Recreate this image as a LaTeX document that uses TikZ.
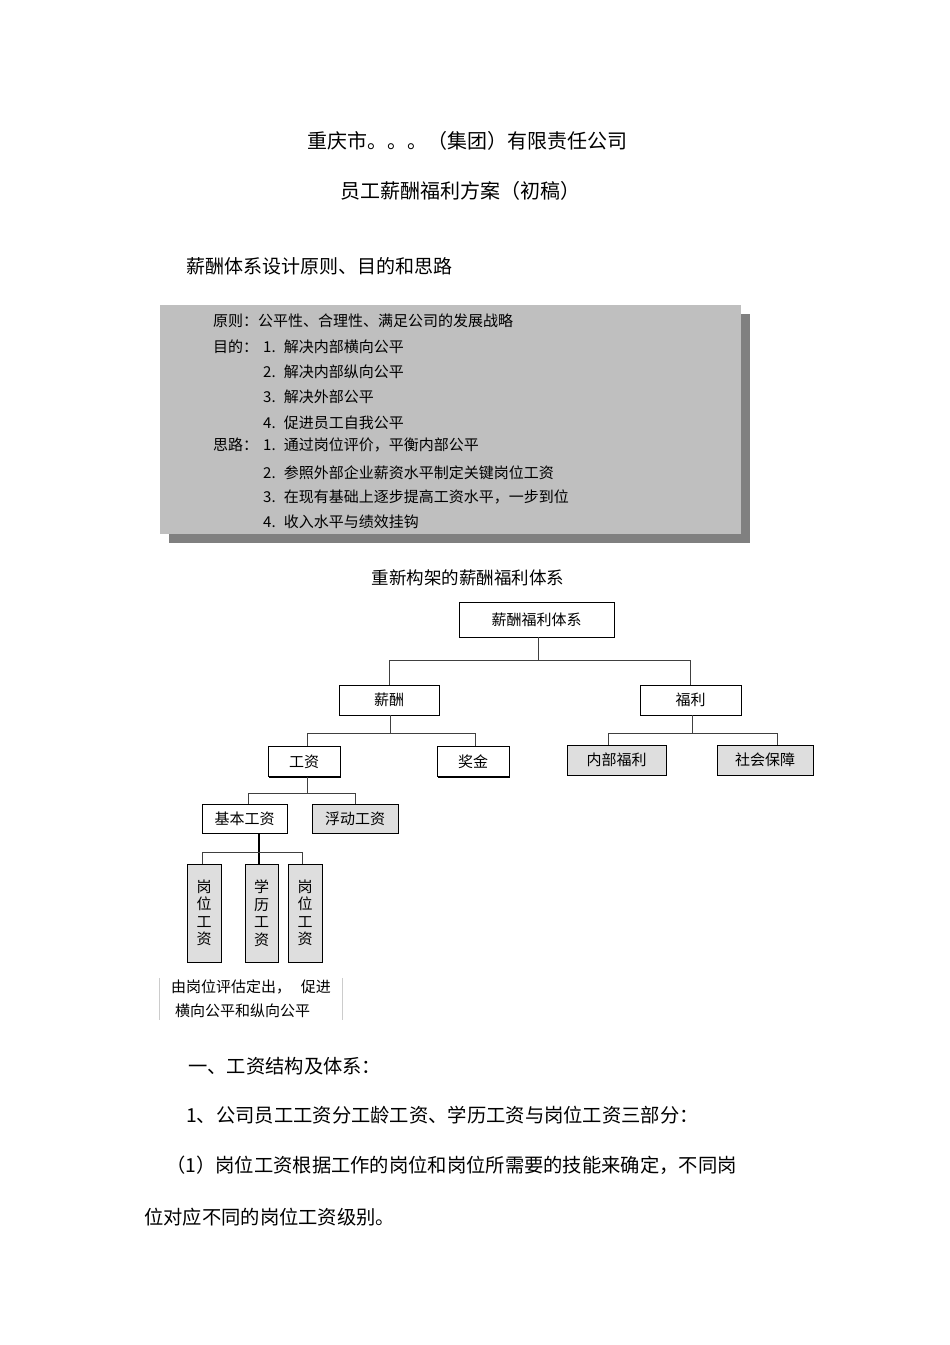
\documentclass[tikz,border=0pt]{standalone}
\usepackage{fontspec}
\setmainfont{Noto Sans CJK SC}
\usetikzlibrary{shadows}
\tikzset{
  ttl/.style={font=\fontsize{20}{24}\selectfont, inner sep=0pt},
  para/.style={font=\fontsize{19.3}{23}\selectfont, anchor=west, inner sep=0pt},
  item/.style={font=\fontsize{15}{18}\selectfont, anchor=west, inner sep=0pt},
  wh/.style 2 args={minimum width=#1, minimum height=#2},
  box/.style={
    draw, line width=0.8pt, fill=white, inner sep=0pt,
    font=\fontsize{15}{18}\selectfont,
    drop shadow={shadow xshift=1.1pt, shadow yshift=-1.1pt, fill=black, opacity=1}
  },
  shade/.style={box, fill=black!13},
  tall/.style={shade, align=center, font=\fontsize{15}{17.5}\selectfont},
  link/.style={draw=black!75, line width=1pt},
  stem/.style={draw=black, line width=1.8pt}
}

\begin{document}
\begin{tikzpicture}[x=1pt, y=-1pt]
  \path[use as bounding box, fill=white] (0,0) rectangle (950,1345);

  % --- heading ----------------------------------------------------------
  \node[ttl] (t1) at (467,141) {重庆市。。。（集团）有限责任公司};
  \node[ttl] (t2) at (460,191) {员工薪酬福利方案（初稿）};
  \node[para, font=\fontsize{19}{23}\selectfont] (sec) at (186,266) {薪酬体系设计原则、目的和思路};

  % --- principles box ---------------------------------------------------
  \node[wh={581}{229}, fill=gray!50, inner sep=0pt,
        drop shadow={shadow xshift=9pt, shadow yshift=-9pt, fill=black!50, opacity=1}]
        (aims) at (450.5,419.5) {};
  \node[item] (rule) at (213,321) {原则：公平性、合理性、满足公司的发展战略};
  \node[item] (goal) at (213,347) {目的：};
  \node[item] (g1) at (263,347) {1.\hspace{0.55em}解决内部横向公平};
  \node[item] (g2) at (263,372) {2.\hspace{0.55em}解决内部纵向公平};
  \node[item] (g3) at (263,397) {3.\hspace{0.55em}解决外部公平};
  \node[item] (g4) at (263,423) {4.\hspace{0.55em}促进员工自我公平};
  \node[item] (idea) at (213,445) {思路：};
  \node[item] (i1) at (263,445) {1.\hspace{0.55em}通过岗位评价，平衡内部公平};
  \node[item] (i2) at (263,473) {2.\hspace{0.55em}参照外部企业薪资水平制定关键岗位工资};
  \node[item] (i3) at (263,497) {3.\hspace{0.55em}在现有基础上逐步提高工资水平，一步到位};
  \node[item] (i4) at (263,522) {4.\hspace{0.55em}收入水平与绩效挂钩};

  % --- tree -------------------------------------------------------------
  \node[inner sep=0pt, font=\fontsize{17.5}{20}\selectfont] (cap) at (468,578) {重新构架的薪酬福利体系};

  \node[box, wh={155}{35}] (root) at (536.5,619.5) {薪酬福利体系};
  \node[box, wh={100}{30}] (pay) at (389,700) {薪酬};
  \node[box, wh={101}{30}] (ben) at (690.5,700) {福利};
  \node[box, wh={72}{30}] (wage) at (304,761.5) {工资};
  \node[box, wh={72}{30}] (bonus) at (473,761.5) {奖金};
  \node[shade, wh={99}{30}] (inner) at (616.5,760) {内部福利};
  \node[shade, wh={96}{30}] (social) at (765,760) {社会保障};
  \node[box, wh={85}{29}] (basic) at (244.5,818.5) {基本工资};
  \node[shade, wh={86}{29}] (float) at (355,818.5) {浮动工资};
  \node[tall, wh={34}{98}] (post1) at (204,913) {岗\\位\\工\\资};
  \node[tall, wh={33}{98}] (edu) at (261.5,913) {学\\历\\工\\资};
  \node[tall, wh={34}{98}] (post2) at (305,913) {岗\\位\\工\\资};

  \coordinate (j1) at (538,660);
  \coordinate (j2) at (390,733);
  \coordinate (j3) at (692,733);
  \coordinate (j4) at (307,793);
  \coordinate (j5) at (259,852);

  \draw[link] (root.south -| j1) -- (j1);
  \draw[link] (j1) -| (pay.north);
  \draw[link] (j1) -| (ben.north);
  \draw[link] (pay.south -| j2) -- (j2);
  \draw[link] (j2) -| ([xshift=3pt]wage.north);
  \draw[link] (j2) -| ([xshift=2pt]bonus.north);
  \draw[link] (ben.south -| j3) -- (j3);
  \draw[link] (j3) -| ([xshift=-8.5pt]inner.north);
  \draw[link] (j3) -| ([xshift=12pt]social.north);
  \draw[link] (wage.south -| j4) -- (j4);
  \draw[link] (j4) -| ([xshift=3.5pt]basic.north);
  \draw[link] (j4) -| (float.north);
  \draw[stem] (basic.south -| j5) -- (edu.north -| j5);
  \draw[link] (j5) -| ([xshift=-2pt]post1.north);
  \draw[link] (j5) -| ([xshift=-3pt]post2.north);

  % --- note under the boxes ---------------------------------------------
  \node[wh={182}{42}, inner sep=0pt, align=left, font=\fontsize{15}{24}\selectfont]
        (note) at (251,999) {由岗位评估定出，\hspace{10pt}促进\\\hspace{4pt}横向公平和纵向公平};
  \draw[black!20, line width=0.8pt] (note.north west) -- (note.south west);
  \draw[black!20, line width=0.8pt] (note.north east) -- (note.south east);

  % --- body text --------------------------------------------------------
  \node[para] (h1) at (188,1066) {一、工资结构及体系：};
  \node[para] (p1) at (186,1115) {1、公司员工工资分工龄工资、学历工资与岗位工资三部分：};
  \node[para] (p2) at (166,1165) {（1）岗位工资根据工作的岗位和岗位所需要的技能来确定，不同岗};
  \node[para] (p3) at (144,1217) {位对应不同的岗位工资级别。};
\end{tikzpicture}
\end{document}
